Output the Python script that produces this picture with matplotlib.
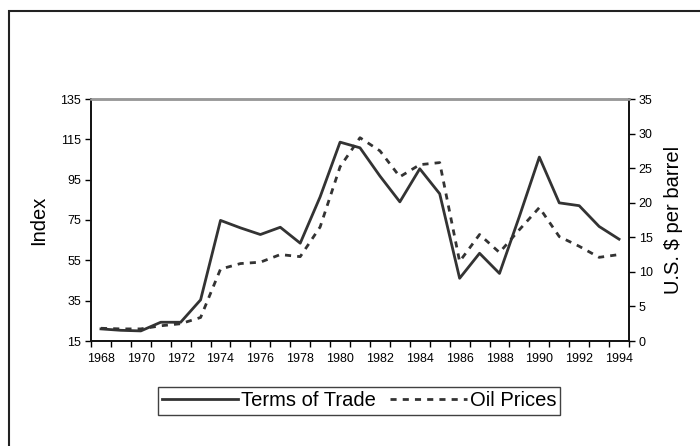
import numpy as np
import matplotlib
matplotlib.use("Agg")
import matplotlib.pyplot as plt
from matplotlib.patches import Rectangle

plt.rcParams['font.family'] = ['Liberation Sans', 'DejaVu Sans']

years = list(range(1968, 1995))
terms_of_trade = [21.0, 20.3, 20.0, 24.3, 24.3, 35.4, 74.8, 71.1, 67.8, 71.4,
                  63.5, 86.5, 113.6, 110.8, 96.8, 84.0, 100.4, 88.0, 46.1, 58.5,
                  48.5, 76.8, 106.2, 83.5, 82.1, 71.8, 65.5]
oil_prices = [1.84, 1.75, 1.75, 2.2, 2.5, 3.4, 10.4, 11.2, 11.4, 12.5,
              12.2, 16.5, 25.2, 29.4, 27.5, 23.75, 25.5, 25.8, 11.5, 15.4,
              12.8, 16.1, 19.3, 15.1, 13.7, 12.1, 12.5]

x = np.arange(len(years))

fig = plt.figure(figsize=(7, 4.46), dpi=100)
# outer frame of the original figure (right/bottom edges fall outside)
fig.patches.append(Rectangle((8.5/700, -0.1), 1.2, (446-10.5)/446 + 0.1,
                             transform=fig.transFigure, fill=False,
                             edgecolor='#222222', linewidth=1.5))

ax = fig.add_axes([91/700, (446-341)/446, (629-91)/700, (341-99)/446])
ax2 = ax.twinx()

line_col = '#333333'
l1, = ax.plot(x, terms_of_trade, color=line_col, lw=2, label='Terms of Trade')
l2, = ax2.plot(x, oil_prices, color=line_col, lw=2, ls=(0, (2.2, 2.2)),
               label='Oil Prices')

ax.set_xlim(-0.5, len(years) - 0.5)
ax.set_ylim(15, 135)
ax.set_yticks(range(15, 136, 20))
ax2.set_ylim(0, 35)
ax2.set_yticks(range(0, 36, 5))

ax.set_xticks(x[::2])
ax.set_xticklabels([str(y) for y in years[::2]])
ax.set_xticks(np.arange(-0.5, len(years), 1), minor=True)
ax.tick_params(axis='x', which='major', length=0, pad=9, labelsize=9)
ax.tick_params(axis='x', which='minor', length=4, width=1, direction='out')
ax.tick_params(axis='y', length=4, width=1, direction='out', labelsize=9, pad=3)
ax2.tick_params(axis='y', length=4, width=1, direction='out', labelsize=9, pad=3)

for a in (ax, ax2):
    a.spines['top'].set_color('#999999')
    a.spines['top'].set_linewidth(1.8)
    for s in ('left', 'right', 'bottom'):
        a.spines[s].set_color('#111111')
        a.spines[s].set_linewidth(1.2)

ax.set_ylabel('Index', fontsize=14.5, labelpad=9)
ax2.set_ylabel('U.S. $ per barrel', fontsize=14.5, labelpad=8)

leg = fig.legend(handles=[l1, l2], loc='center', ncol=2,
                 bbox_to_anchor=(359/700, (446-401)/446), fontsize=14.5,
                 frameon=True, fancybox=False, handlelength=3.8,
                 handletextpad=0.15, columnspacing=0.7, borderpad=0.2,
                 borderaxespad=0)
leg.get_frame().set_edgecolor('#111111')
leg.get_frame().set_linewidth(1.0)

fig.savefig('out.png', dpi=100)
